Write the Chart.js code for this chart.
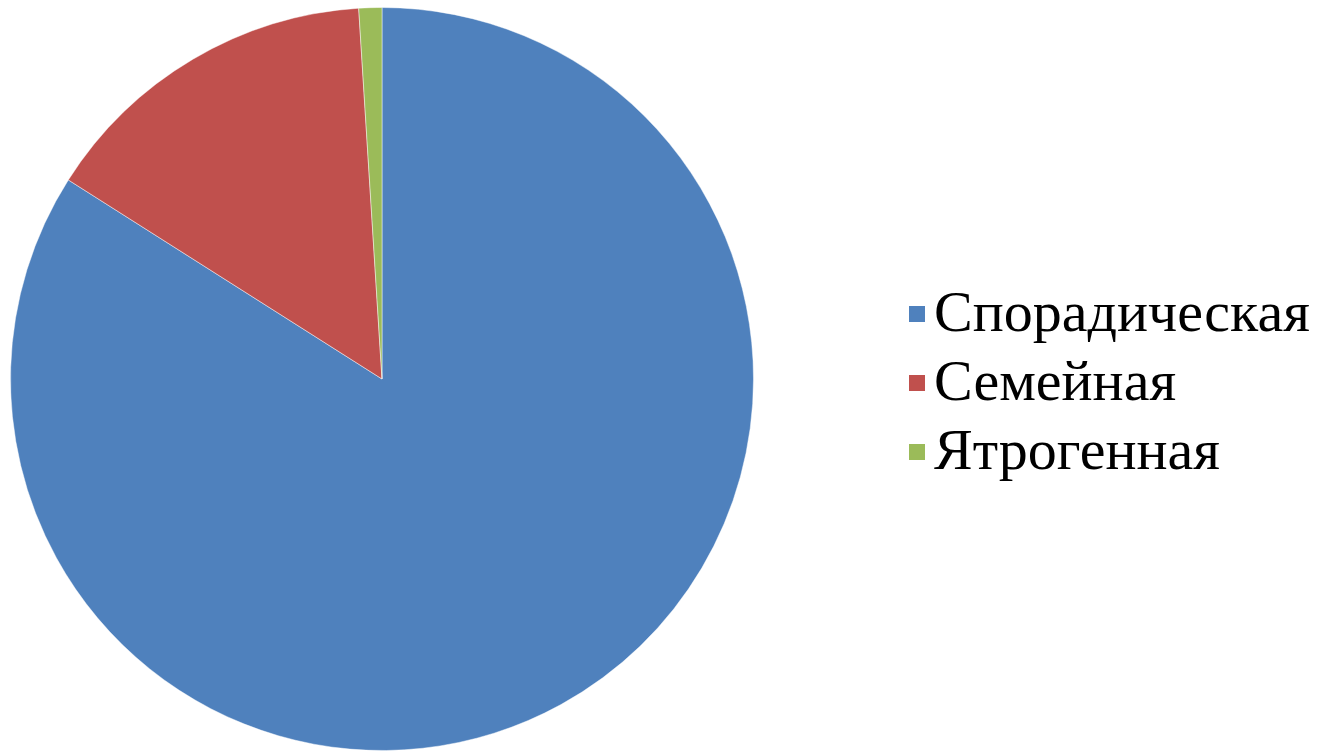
<!DOCTYPE html>
<html>
<head>
<meta charset="utf-8">
<script src="https://cdn.jsdelivr.net/npm/chart.js@4"></script>
<style>
  body { margin: 0; background: #fff; }
  #wrap { position: relative; width: 1328px; height: 751px; }
  #pieBox { position: absolute; left: 0; top: 0; width: 764px; height: 751px; }
  #legend { position: absolute; left: 909px; top: 277px; font-family: 'Liberation Serif', 'Times New Roman', serif; font-size: 58px; color: #000; }
  .item { height: 69px; line-height: 69px; white-space: nowrap; }
  .box { display: inline-block; width: 16px; height: 16px; margin-right: 9px; vertical-align: middle; position: relative; top: -4px; }
</style>
</head>
<body>
<div id="wrap">
  <div id="pieBox"><canvas id="pieChart"></canvas></div>
  <div id="legend"></div>
</div>
<script>
const labels = ["Спорадическая", "Семейная", "Ятрогенная"];
const values = [84, 15, 1];
const colors = ["#4F81BD", "#C0504D", "#9BBB59"];

const ctx = document.getElementById('pieChart').getContext('2d');
new Chart(ctx, {
    type: 'pie',
    data: {
        labels: labels,
        datasets: [{
            data: values,
            backgroundColor: colors,
            borderColor: "rgba(255,255,255,0.45)",
            borderWidth: 1
        }]
    },
    options: {
        responsive: true,
        maintainAspectRatio: false,
        animation: false,
        layout: { padding: { left: 10, right: 10, top: 7, bottom: 0 } },
        plugins: {
            legend: { display: false },
            tooltip: { enabled: false }
        }
    }
});

// legend built from the same arrays
const legend = document.getElementById("legend");
labels.forEach((name, i) => {
    const row = document.createElement("div");
    row.className = "item";
    const box = document.createElement("span");
    box.className = "box";
    box.style.background = colors[i];
    row.appendChild(box);
    row.appendChild(document.createTextNode(name));
    legend.appendChild(row);
});
</script>
</body>
</html>
